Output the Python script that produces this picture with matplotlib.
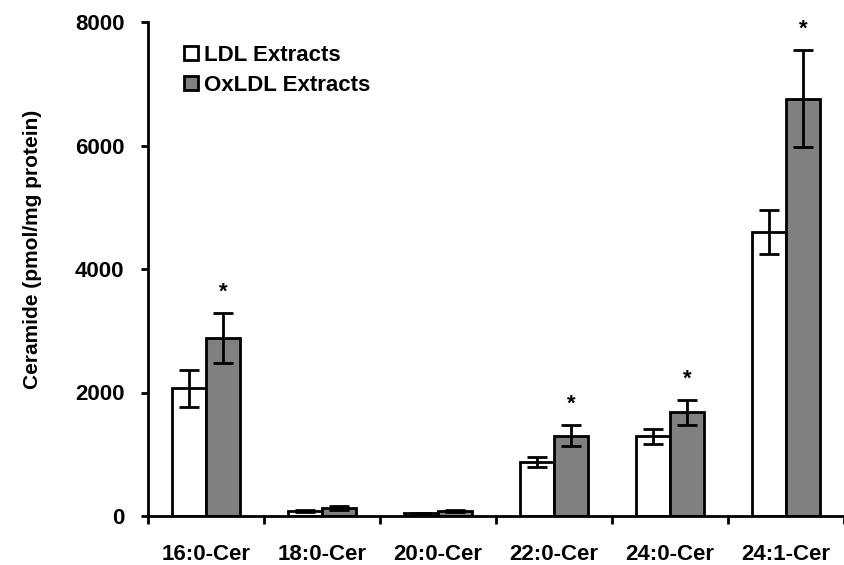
import numpy as np
import matplotlib
matplotlib.use("Agg")
import matplotlib.pyplot as plt
from matplotlib.patches import Patch

plt.rcParams["font.family"] = ["Liberation Sans", "DejaVu Sans"]
plt.rcParams["font.weight"] = "bold"

categories = ["16:0-Cer", "18:0-Cer", "20:0-Cer", "22:0-Cer", "24:0-Cer", "24:1-Cer"]
ldl_mean = [2070, 80, 45, 870, 1290, 4600]
ldl_err = [300, 15, 10, 80, 125, 360]
oxldl_mean = [2880, 130, 80, 1300, 1680, 6760]
oxldl_err = [410, 30, 20, 170, 200, 790]
significant = [True, False, False, True, True, True]

x = np.arange(len(categories))
w = 0.29
lw = 2.0

fig = plt.figure(figsize=(8.44, 5.65), dpi=100)
ax = fig.add_axes([148 / 844, 49 / 565, 1 - 148 / 844, 494 / 565])

err_kw = dict(ecolor="black", elinewidth=lw, capsize=7, capthick=lw)
ax.bar(x - w / 2, ldl_mean, w, yerr=ldl_err, color="white", edgecolor="black",
       linewidth=lw, error_kw=err_kw, zorder=2)
ax.bar(x + w / 2, oxldl_mean, w, yerr=oxldl_err, color="#808080", edgecolor="black",
       linewidth=lw, error_kw=err_kw, zorder=2)

# significance marks above the OxLDL error bars
for xi, m, e, sig in zip(x, oxldl_mean, oxldl_err, significant):
    if sig:
        ax.text(xi + w / 2, m + e + 170, "*", ha="center", va="bottom",
                fontsize=16, fontweight="bold")

ax.set_xlim(-0.5, (844 - 148) / 117.3 - 0.5)
ax.set_ylim(0, 8000)
ax.set_yticks([0, 2000, 4000, 6000, 8000])
ax.set_xticks(np.arange(len(categories) + 1) - 0.5)
ax.set_xticklabels([])
ax.set_xticks(x, minor=True)
ax.set_xticklabels(categories, minor=True)
ax.tick_params(axis="x", which="minor", length=0, pad=20, labelsize=16)
ax.tick_params(axis="x", which="major", length=6, width=lw, direction="out")
ax.tick_params(axis="y", length=5, width=lw, direction="out", pad=12, labelsize=16)

for side in ("top", "right"):
    ax.spines[side].set_visible(False)
for side in ("left", "bottom"):
    ax.spines[side].set_linewidth(lw)

ax.set_ylabel("Ceramide (pmol/mg protein)", fontsize=15, fontweight="bold")
ax.yaxis.set_label_coords(-0.152, 0.54)

handles = [Patch(facecolor="white", edgecolor="black", linewidth=lw),
           Patch(facecolor="#808080", edgecolor="black", linewidth=lw)]
ax.legend(handles, ["LDL Extracts", "OxLDL Extracts"], loc="upper left",
          bbox_to_anchor=(0.03, 0.985), frameon=False, fontsize=16,
          handlelength=0.6, handleheight=0.6, handletextpad=0.3, labelspacing=0.4,
          borderaxespad=0.3)

fig.savefig("out.png", dpi=100)
